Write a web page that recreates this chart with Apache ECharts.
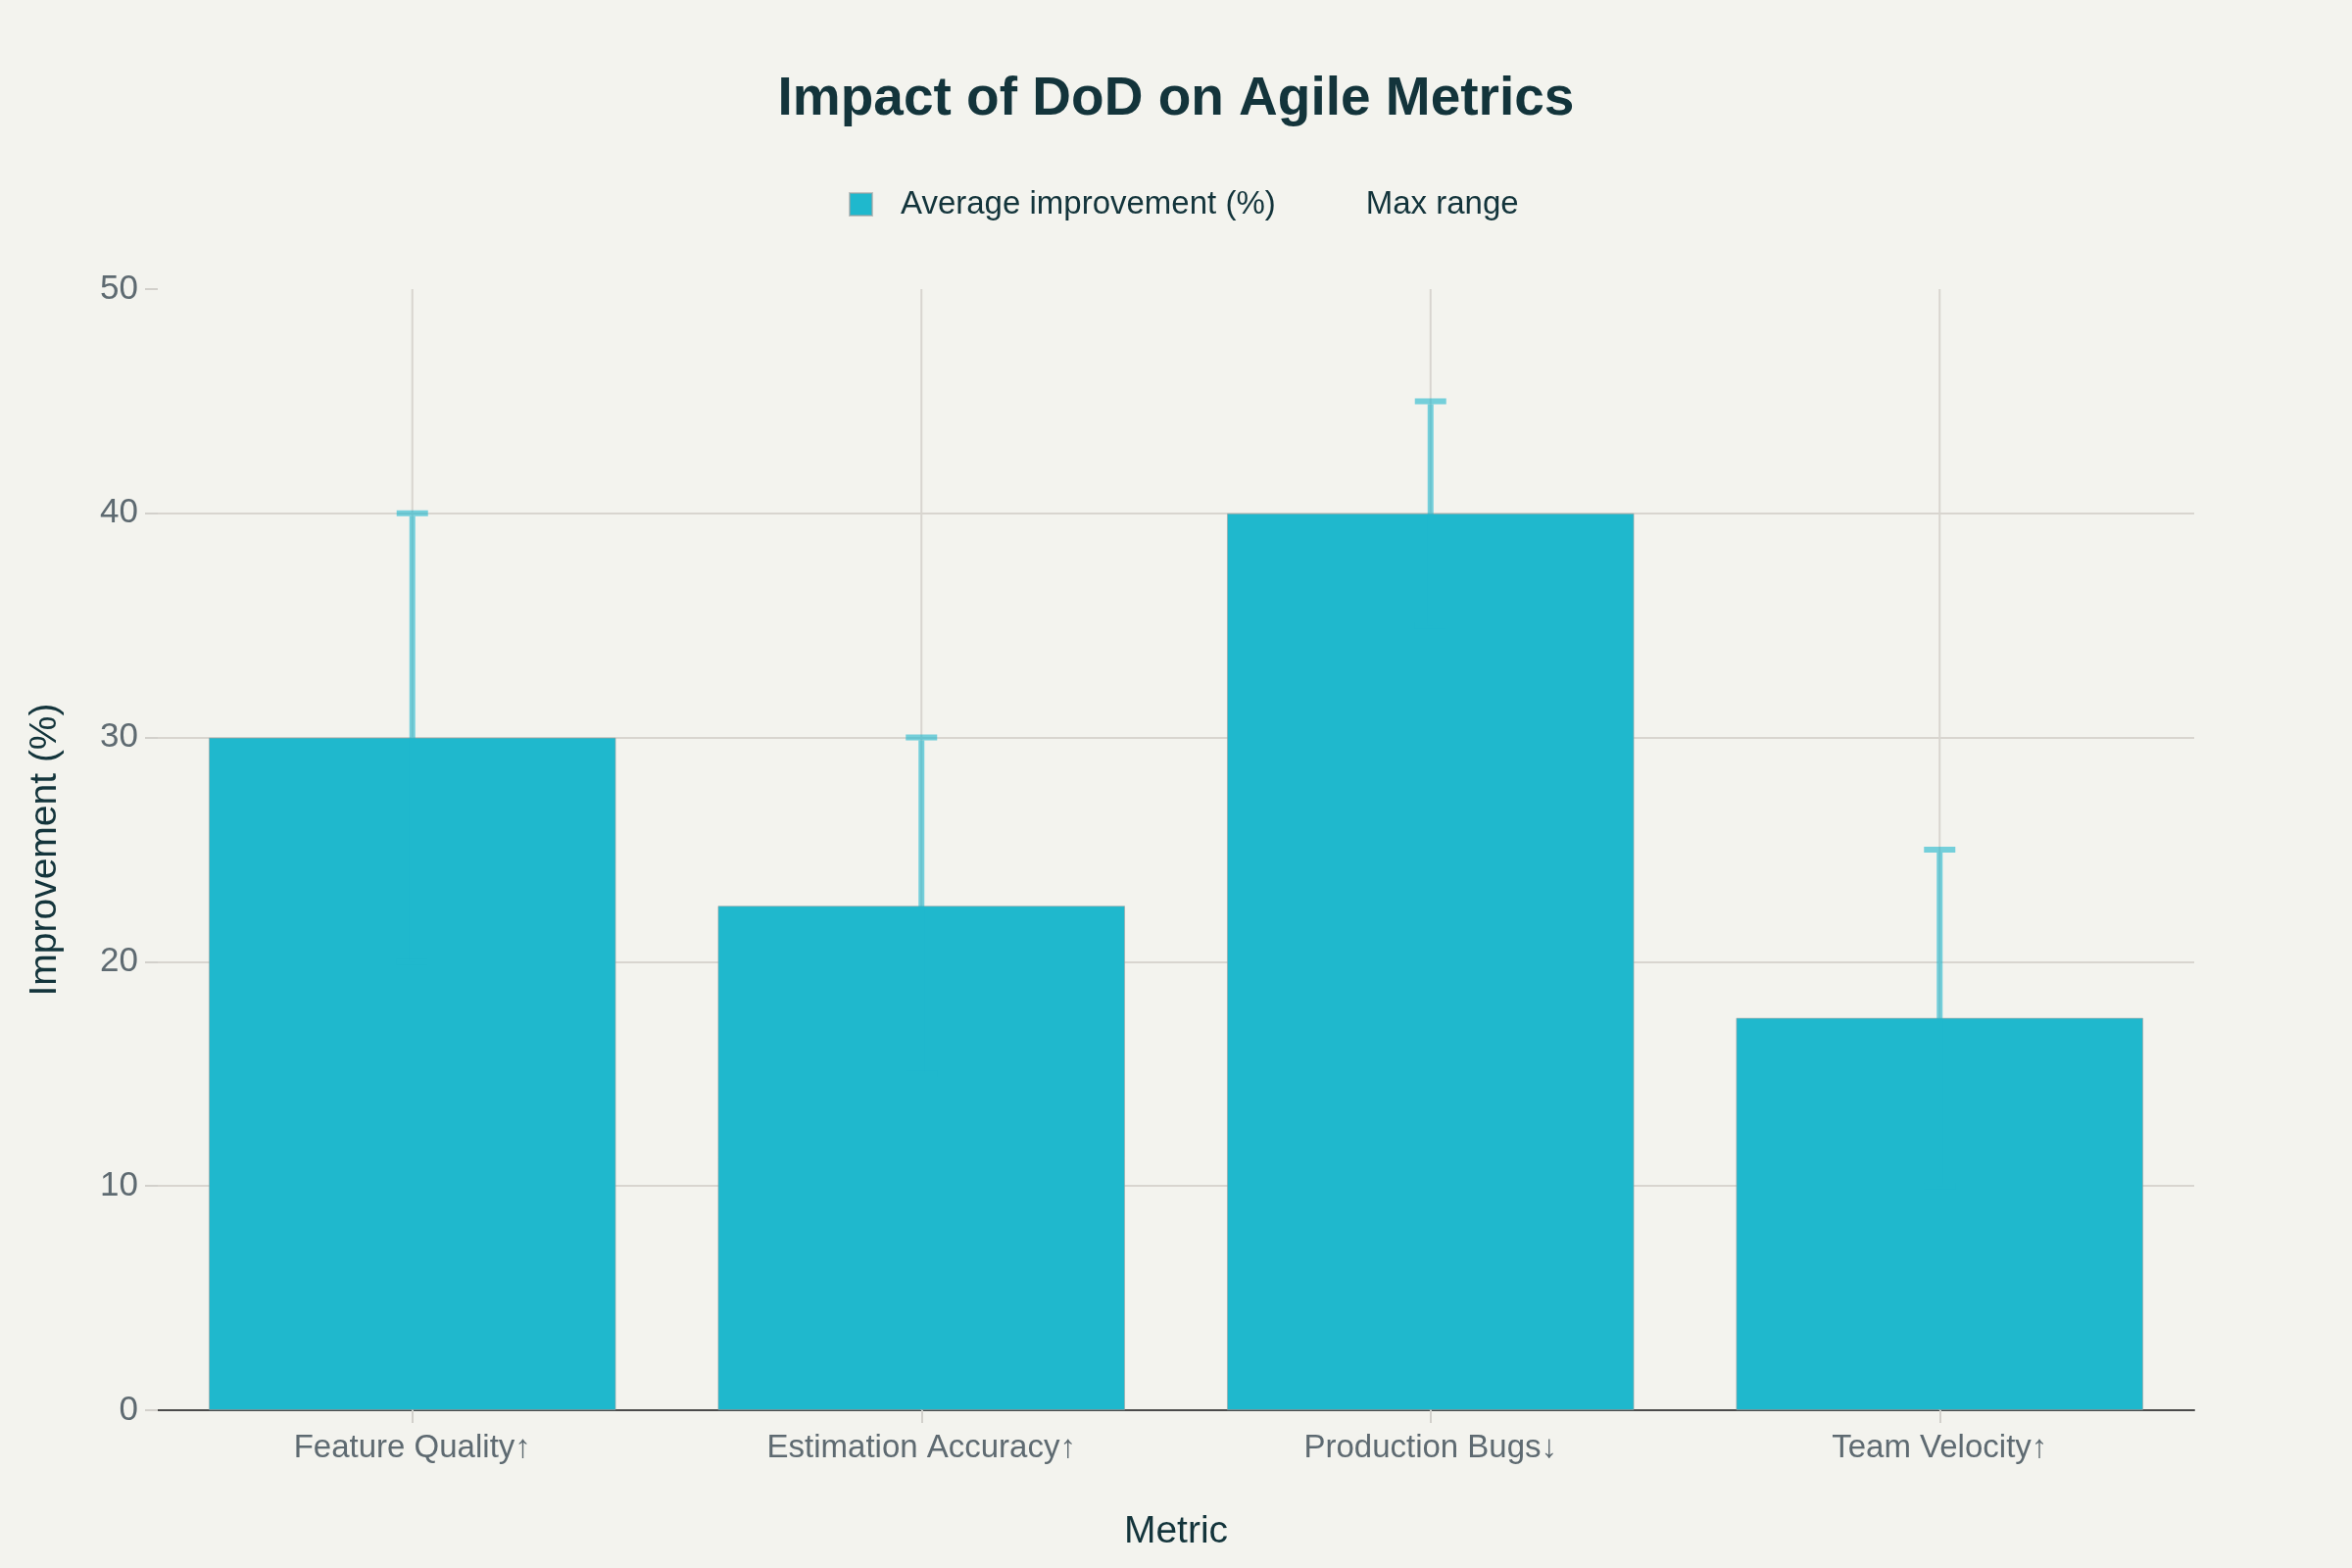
<!DOCTYPE html>
<html>
<head>
<meta charset="utf-8">
<script src="https://cdn.jsdelivr.net/npm/echarts@6/dist/echarts.min.js"></script>
<style>
html,body{margin:0;padding:0;background:#F3F3EE;}
#chart{width:2400px;height:1600px;}
</style>
</head>
<body>
<div id="chart"></div>
<script>
const categories = ['Feature Quality↑', 'Estimation Accuracy↑', 'Production Bugs↓', 'Team Velocity↑'];
const avgImprovement = [30, 22.5, 40, 17.5];
const rangeMin = [20, 15, 35, 10];
const rangeMax = [40, 30, 45, 25];
const yTicks = [0, 10, 20, 30, 40, 50];

const FONT = '"Liberation Sans", Arial, sans-serif';
const chart = echarts.init(document.getElementById('chart'), null, {renderer: 'canvas'});

const errData = categories.map((c, i) => [i, rangeMin[i], rangeMax[i]]);
const vgridData = categories.map((c, i) => [i, yTicks[0], yTicks[yTicks.length - 1]]);

const option = {
  backgroundColor: '#F3F3EE',
  animation: false,
  textStyle: {fontFamily: FONT},
  title: {
    text: 'Impact of DoD on Agile Metrics',
    left: 'center',
    top: 69,
    textStyle: {fontFamily: FONT, fontSize: 55, fontWeight: 'bold', color: '#13343B'}
  },
  legend: {
    left: 861,
    top: 187,
    itemWidth: 23,
    itemHeight: 23,
    itemGap: 40,
    textStyle: {fontFamily: FONT, fontSize: 33, color: '#13343B', padding: [0, 0, 0, 24]},
    data: [
      {name: 'Average improvement (%)', icon: 'rect'},
      {name: 'Max range', icon: 'none'}
    ]
  },
  grid: {left: 161, right: 161, top: 295, bottom: 161},
  xAxis: {
    type: 'category',
    data: categories,
    name: 'Metric',
    nameLocation: 'middle',
    nameGap: 105,
    nameTextStyle: {fontFamily: FONT, fontSize: 39, color: '#13343B'},
    axisLine: {show: true, lineStyle: {color: '#4A4A4A', width: 2}},
    axisTick: {show: true, alignWithLabel: true, length: 13, lineStyle: {color: '#D2D0CB', width: 2}},
    axisLabel: {fontFamily: FONT, fontSize: 33, color: '#5E6A71', margin: 22},
    splitLine: {show: false}
  },
  yAxis: {
    type: 'value',
    min: 0,
    max: 50,
    interval: 10,
    name: 'Improvement (%)',
    nameLocation: 'middle',
    nameGap: 95,
    nameTextStyle: {fontFamily: FONT, fontSize: 39, color: '#13343B'},
    axisLine: {show: false},
    axisTick: {show: true, length: 13, lineStyle: {color: '#D2D0CB', width: 2}},
    axisLabel: {fontFamily: FONT, fontSize: 35, color: '#5E6A71', margin: 20},
    splitLine: {show: true, showMaxLine: false, lineStyle: {color: '#D8D5CF', width: 2}}
  },
  series: [
    {
      name: 'vgrid',
      type: 'custom',
      z: 1,
      silent: true,
      data: vgridData,
      encode: {x: 0, y: [1, 2]},
      renderItem: function (params, api) {
        const p0 = api.coord([api.value(0), api.value(1)]);
        const p1 = api.coord([api.value(0), api.value(2)]);
        return {type: 'line', shape: {x1: p0[0], y1: p0[1], x2: p1[0], y2: p1[1]},
          style: {stroke: '#D8D5CF', lineWidth: 2}};
      }
    },
    {
      name: 'Average improvement (%)',
      type: 'bar',
      z: 2,
      data: avgImprovement,
      barCategoryGap: '20%',
      itemStyle: {color: '#1FB8CD', borderColor: 'rgba(160,160,160,0.6)', borderWidth: 1}
    },
    {
      name: 'Max range',
      type: 'custom',
      z: 3,
      data: errData,
      encode: {x: 0, y: [1, 2]},
      itemStyle: {color: 'rgba(31,184,205,0.6)'},
      renderItem: function (params, api) {
        const lo = api.coord([api.value(0), api.value(1)]);
        const hi = api.coord([api.value(0), api.value(2)]);
        const hw = 16;
        const style = {stroke: 'rgba(31,184,205,0.6)', lineWidth: 6};
        return {
          type: 'group',
          children: [
            {type: 'line', shape: {x1: lo[0], y1: lo[1], x2: hi[0], y2: hi[1] + 3}, style: style},
            {type: 'line', shape: {x1: hi[0] - hw, y1: hi[1], x2: hi[0] + hw, y2: hi[1]}, style: style},
            {type: 'line', shape: {x1: lo[0] - hw, y1: lo[1], x2: lo[0] + hw, y2: lo[1]}, style: style}
          ]
        };
      }
    }
  ]
};
chart.setOption(option);
</script>
</body>
</html>
